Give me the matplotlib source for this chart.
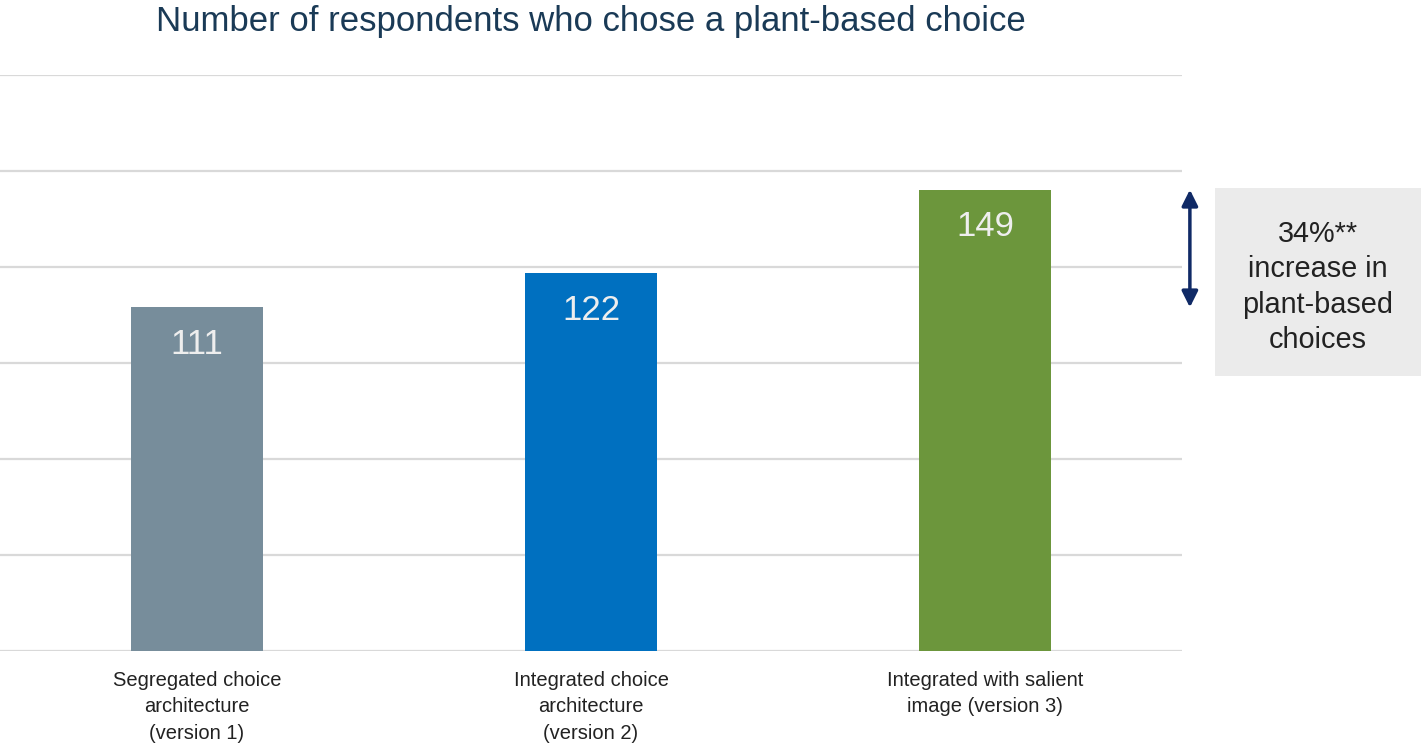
import matplotlib.pyplot as plt
from matplotlib.patches import Rectangle

plt.rcParams['font.family'] = ['Liberation Sans', 'DejaVu Sans']

categories = ['Segregated choice\narchitecture\n(version 1)',
              'Integrated choice\narchitecture\n(version 2)',
              'Integrated with salient\nimage (version 3)']
values = [111, 122, 149]
colors = ['#778d9b', '#0070c0', '#6c963c']
title = 'Number of respondents who chose a plant-based choice'
note = '34%**\nincrease in\nplant-based\nchoices'

fig = plt.figure(figsize=(14.21, 7.44), dpi=100)
ax = fig.add_axes([0.0, 0.125, 1182 / 1421, 0.774])

x = range(len(values))
bars = ax.bar(x, values, width=0.337, color=colors, zorder=3)
for xi, v in zip(x, values):
    ax.text(xi, v - 12, str(v), ha='center', va='center',
            fontsize=25, color='#eeeeee', zorder=4)

ax.set_xlim(-0.5, 2.5)
ax.set_ylim(0, 186)
ax.set_yticks(range(0, 187, 31))
ax.grid(axis='y', color='#d9d9d9', linewidth=1.6, zorder=0)
for s in ax.spines.values():
    s.set_visible(False)
ax.axhline(0, color='#d9d9d9', linewidth=2, zorder=2)
ax.tick_params(left=False, labelleft=False, bottom=False, labelbottom=False)

for xi, lab in zip(x, categories):
    ax.text(xi, -6.5, lab, ha='center', va='top', fontsize=14.5,
            color='#222222', linespacing=1.48)

fig.text(591 / 1421, 1 - 21 / 744, title, ha='center', va='center',
         fontsize=25, color='#1a3a56')

# arrow showing increase from version 1 to version 3
ax.annotate('', xy=(2.52, values[2]), xytext=(2.52, values[0]),
            arrowprops=dict(arrowstyle='<|-|>', color='#102a66', lw=2.5,
                            mutation_scale=24, shrinkA=0, shrinkB=0),
            annotation_clip=False)

fig.patches.append(Rectangle((1215 / 1421, 1 - 376 / 744), 206 / 1421, 188 / 744,
                             transform=fig.transFigure, facecolor='#ebebeb',
                             edgecolor='none', zorder=0))
fig.text(1318 / 1421, 1 - 287 / 744, note, ha='center', va='center',
         fontsize=20.8, color='#222222', linespacing=1.33)

fig.savefig('out.png', dpi=100)
